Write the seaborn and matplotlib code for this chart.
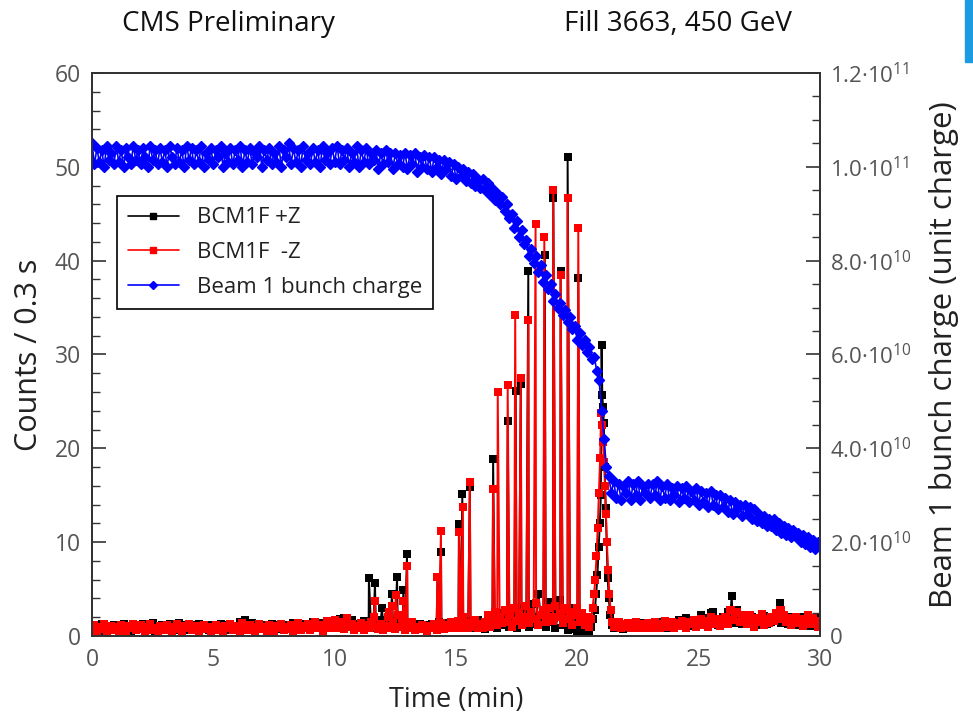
import numpy as np
import pandas as pd
import matplotlib
matplotlib.use("Agg")
import matplotlib.pyplot as plt
import seaborn as sns
from matplotlib.lines import Line2D
from matplotlib.patches import Rectangle
from matplotlib.ticker import MultipleLocator, FuncFormatter

# ---------------- data ----------------
# baseline counts sampled every 0.1 min (0 .. 30)
base_step = 0.1
red_base = [0.8,1.2,0.5,1.0,0.7,1.3,0.4,0.9,1.1,0.6,
            1.0,0.5,1.2,0.8,0.3,1.1,0.9,1.3,0.6,0.8,
            1.2,0.7,0.4,1.0,1.3,0.6,0.9,0.5,1.1,0.8,
            0.6,1.2,0.9,0.4,1.0,1.3,0.7,0.5,1.1,0.9,
            1.3,0.6,0.8,1.1,0.4,0.9,1.2,0.7,1.0,0.5,
            0.9,1.2,0.6,1.0,0.3,1.1,0.8,1.3,0.6,0.9,
            1.1,0.5,1.4,0.8,0.6,1.2,0.9,0.4,1.0,1.3,
            0.7,1.0,0.5,1.2,0.8,0.4,1.1,0.9,1.3,0.6,
            1.0,0.7,1.2,0.5,0.9,1.4,0.6,1.1,0.8,1.3,
            0.6,1.0,1.5,0.8,1.2,0.5,1.1,1.6,0.9,1.3,
            1.7,0.8,1.2,1.5,0.7,1.9,1.0,1.3,0.6,1.1,
            0.9,1.4,0.6,1.2,0.8,1.5,2.0,1.0,0.7,1.3,
            0.6,1.1,2.0,0.8,1.5,0.7,2.2,1.0,1.4,0.6,
            1.2,0.8,1.5,0.6,1.0,0.7,1.2,0.9,0.5,1.1,
            0.8,1.3,0.6,1.0,1.4,0.7,1.2,0.9,1.5,0.8,
            1.1,1.6,0.9,2.0,1.2,0.8,1.4,1.0,1.7,0.9,
            1.3,0.8,1.5,2.2,1.0,1.8,2.6,1.2,2.0,1.4,
            2.8,1.5,2.2,1.0,3.0,1.6,2.4,1.2,2.0,3.2,
            1.4,2.6,1.8,3.5,1.2,2.2,2.8,1.5,3.0,2.0,
            1.6,3.2,2.0,2.5,1.4,3.0,1.8,2.6,1.2,2.2,
            3.0,1.5,2.4,1.2,2.0,1.0,1.5,2.0,3.0,5.0,
            10.0,15.0,10.0,5.0,2.0,1.2,1.0,1.5,0.9,1.3,
            1.0,1.4,0.8,1.2,1.5,0.9,1.3,1.1,0.8,1.4,
            1.2,0.9,1.5,1.1,0.8,1.3,1.6,1.0,1.2,1.5,
            0.9,1.4,1.1,1.6,1.2,0.9,1.5,1.3,1.7,1.0,
            1.4,1.8,1.2,1.6,1.0,2.0,1.5,1.3,1.8,1.1,
            1.6,2.0,1.3,2.8,1.7,2.4,2.6,1.5,2.2,1.8,
            1.3,2.2,1.7,1.0,1.9,1.5,2.3,1.2,1.8,1.4,
            2.0,1.6,2.5,1.8,2.8,2.2,1.5,1.9,1.2,1.7,
            2.0,1.4,1.8,1.1,1.6,2.2,1.3,1.9,1.5,1.0,
            1.6]
black_base = [1.0,0.6,1.2,0.8,1.3,0.5,1.1,0.7,0.9,1.2,
              0.7,1.1,0.9,1.3,0.6,1.0,0.5,1.2,0.8,1.1,
              0.9,1.3,0.6,1.1,0.8,1.4,0.5,1.0,0.7,1.2,
              1.1,0.7,1.3,0.9,0.6,1.0,1.4,0.8,0.6,1.2,
              0.8,1.2,1.0,0.6,1.3,0.7,0.9,1.2,0.6,1.1,
              1.2,0.7,1.0,1.3,0.8,0.6,1.2,0.9,1.1,0.7,
              1.0,1.5,0.9,1.7,1.2,0.8,1.4,1.1,0.7,1.0,
              1.2,0.8,1.0,0.6,1.3,1.1,0.7,1.2,0.9,1.1,
              0.8,1.2,1.0,1.4,0.7,1.1,0.9,1.3,1.0,0.8,
              1.2,1.5,0.9,1.3,1.0,1.4,1.1,0.8,1.6,1.2,
              1.4,1.0,1.8,1.2,1.9,1.5,1.0,1.7,1.2,0.9,
              1.3,1.0,1.6,0.8,1.2,1.0,1.4,0.8,1.1,1.7,
              1.0,1.4,0.8,1.2,1.6,1.0,1.3,1.9,1.1,0.8,
              1.2,0.9,1.4,1.0,0.7,1.3,1.1,0.8,1.2,1.0,
              1.3,0.9,1.1,1.5,0.8,1.2,1.0,1.4,0.9,1.2,
              1.5,1.0,1.3,0.9,1.6,1.1,1.4,0.8,1.2,1.7,
              1.0,1.5,0.7,1.3,2.0,1.1,1.6,0.9,2.4,1.2,
              1.8,2.5,1.0,1.6,2.2,0.8,3.0,1.4,1.9,2.7,
              1.0,2.2,3.4,1.3,4.5,1.8,2.5,1.0,3.6,1.5,
              2.8,0.8,2.2,3.8,1.2,2.0,0.6,3.0,1.5,0.7,
              0.5,0.3,0.8,0.2,1.2,0.4,0.9,0.3,0.2,0.3,
              10.0,15.0,10.0,5.0,2.0,1.0,0.8,1.2,1.0,0.7,
              1.1,0.8,1.3,1.0,1.2,0.9,1.4,1.1,1.0,1.3,
              0.9,1.3,1.1,1.5,1.0,1.2,1.4,0.9,1.3,1.1,
              1.4,1.1,1.7,1.2,1.5,1.9,1.3,1.6,1.1,1.5,
              1.6,2.2,1.4,1.9,1.3,2.4,2.6,1.7,1.2,1.8,
              2.0,1.5,2.6,1.7,2.2,1.4,2.8,1.9,1.3,1.6,
              1.9,1.4,2.0,1.6,1.2,1.8,1.5,2.1,1.3,1.7,
              1.5,2.0,1.7,2.3,1.4,1.9,1.6,1.3,2.0,1.5,
              1.8,1.2,1.6,2.0,1.4,1.7,1.1,1.5,1.9,1.3,
              1.4]

# single-sample spikes (time in min, counts)
black_spike_t = [11.41,11.66,11.95,12.36,12.57,12.83,12.98,14.24,14.38,15.12,15.26,15.57,
                 16.53,17.13,17.46,17.67,17.98,18.66,19.01,19.31,19.6,20.04,25.5,26.36,28.35]
black_spike_v = [6.2,5.6,3.0,4.5,6.3,4.9,8.7,6.3,8.9,11.9,15.1,15.9,
                 18.9,22.9,26.1,26.9,38.9,40.6,46.7,38.9,51.0,38.2,2.45,4.26,3.55]
red_spike_t = [11.66,12.24,12.36,12.51,12.83,12.99,14.23,14.38,15.13,15.28,15.57,16.53,
               16.72,17.13,17.44,17.67,17.98,18.28,18.64,19.01,19.31,19.6,20.04,26.33,28.35]
red_spike_v = [3.7,2.6,3.2,4.4,3.7,7.5,6.3,11.2,11.1,13.7,16.4,15.7,
               26.0,26.7,34.2,27.5,33.7,43.9,42.5,47.5,38.5,46.7,43.5,2.8,2.8]

# beam-loss bump around 21 min
black_bump_t = [20.5,20.58,20.65,20.72,20.78,20.83,20.88,20.93,20.97,21.0,21.03,
                21.06,21.09,21.13,21.17,21.21,21.25,21.3,21.35,21.42,21.5]
black_bump_v = [0.3,1.0,1.8,2.8,4.5,6.5,9.5,12.0,15.0,31.0,25.7,
                24.4,22.7,18.0,13.6,10.0,6.2,4.0,2.2,1.2,0.8]
red_bump_t = [20.5,20.57,20.63,20.69,20.74,20.79,20.84,20.89,20.94,20.98,21.02,
              21.06,21.1,21.14,21.18,21.22,21.27,21.32,21.37,21.43,21.5]
red_bump_v = [1.0,1.8,3.0,4.5,6.0,8.5,11.5,15.2,19.0,23.8,22.5,
              20.7,18.5,16.0,13.0,10.0,7.0,4.5,2.8,1.5,1.0]

# beam 1 bunch charge (units of 1e10), every 0.1 min
beam_step = 0.1
beam_e10 = [10.5,10.05,10.4,10.1,10.35,10.0,10.45,10.15,10.3,10.05,
            10.45,10.1,10.35,10.0,10.4,10.2,10.05,10.45,10.15,10.35,
            10.05,10.4,10.2,10.0,10.45,10.15,10.35,10.05,10.4,10.1,
            10.35,10.0,10.45,10.2,10.05,10.4,10.1,10.35,10.0,10.45,
            10.15,10.4,10.05,10.35,10.1,10.45,10.0,10.3,10.15,10.4,
            10.05,10.35,10.2,10.45,10.0,10.3,10.1,10.4,10.05,10.35,
            10.15,10.45,10.0,10.35,10.1,10.4,10.05,10.3,10.2,10.45,
            10.0,10.35,10.15,10.4,10.05,10.3,10.1,10.45,10.0,10.35,
            10.2,10.5,10.05,10.4,10.1,10.35,10.0,10.45,10.15,10.3,
            10.05,10.4,10.1,10.35,10.0,10.45,10.15,10.3,10.05,10.4,
            10.1,10.45,10.05,10.35,10.15,10.4,10.0,10.3,10.1,10.45,
            10.0,10.35,10.1,10.4,10.05,10.3,10.15,10.35,9.95,10.3,
            10.05,10.35,10.1,10.3,9.95,10.3,10.05,10.25,10.0,10.3,
            9.95,10.25,10.05,10.3,9.9,10.2,10.0,10.25,9.95,10.2,
            9.9,10.2,10.0,10.15,9.85,10.15,9.95,10.1,9.8,10.05,
            9.75,10.0,9.8,9.95,9.7,9.9,9.65,9.85,9.6,9.75,
            9.55,9.75,9.5,9.65,9.4,9.55,9.3,9.45,9.2,9.35,
            9.05,9.2,8.9,9.0,8.7,8.85,8.5,8.65,8.35,8.45,
            8.1,8.25,7.95,8.1,7.75,7.9,7.55,7.7,7.4,7.5,
            7.15,7.3,7.0,7.1,6.85,6.95,6.7,6.8,6.55,6.6,
            6.3,6.45,6.2,6.3,6.05,6.15,5.9,5.95,5.65,5.45,
            4.8,4.2,3.6,3.4,3.05,3.3,2.95,3.25,2.9,3.2,
            3.05,3.3,2.9,3.25,3.0,3.3,2.9,3.2,3.05,3.25,
            2.95,3.25,3.0,3.3,2.9,3.2,2.95,3.25,2.9,3.15,
            3.0,3.2,2.85,3.15,2.95,3.2,2.85,3.1,2.9,3.15,
            2.8,3.1,2.85,3.05,2.75,3.1,2.8,3.0,2.7,3.0,
            2.75,2.95,2.65,2.9,2.6,2.85,2.7,2.8,2.55,2.8,
            2.6,2.75,2.5,2.7,2.45,2.6,2.4,2.55,2.35,2.5,
            2.35,2.5,2.25,2.4,2.2,2.35,2.15,2.3,2.1,2.25,
            2.1,2.2,2.0,2.15,1.95,2.1,1.9,2.05,1.85,2.0,
            1.95]

left_ticks = [0, 10, 20, 30, 40, 50, 60]
x_ticks = [0, 5, 10, 15, 20, 25, 30]
right_ticks_e10 = [0, 2, 4, 6, 8, 10, 12]
labels = ["BCM1F +Z", "BCM1F  -Z", "Beam 1 bunch charge"]

# ---------------- assemble series ----------------
def build(base, sp_t, sp_v, bump_t, bump_v):
    t = np.round(np.arange(len(base)) * base_step, 3)
    b = np.array(base, dtype=float)
    keep = (t < min(bump_t) - 0.03) | (t > max(bump_t) + 0.03)
    tt = np.concatenate([t[keep], sp_t, bump_t])
    vv = np.concatenate([b[keep], sp_v, bump_v])
    df = pd.DataFrame({"t": tt, "v": vv}).sort_values("t", kind="mergesort")
    return df.reset_index(drop=True)

df_black = build(black_base, black_spike_t, black_spike_v, black_bump_t, black_bump_v)
df_red = build(red_base, red_spike_t, red_spike_v, red_bump_t, red_bump_v)
df_beam = pd.DataFrame({"t": np.round(np.arange(len(beam_e10)) * beam_step, 3),
                        "q": np.array(beam_e10) * 1e10})

# ---------------- style ----------------
sns.set_theme(style="white")
plt.rcParams["font.family"] = ["Open Sans", "DejaVu Sans"]
plt.rcParams["mathtext.fontset"] = "custom"
plt.rcParams["mathtext.rm"] = "Open Sans"
plt.rcParams["mathtext.it"] = "Open Sans:italic"
plt.rcParams["mathtext.bf"] = "Open Sans:bold"

spine_col = "#333333"
tick_col = "#555555"
lab_col = "#222222"

fig = plt.figure(figsize=(9.73, 7.2), dpi=100)
ax = fig.add_axes([0.0946, 0.1167, 0.7481, 0.7819])
ax2 = ax.twinx()

sns.lineplot(data=df_black, x="t", y="v", ax=ax, color="black", marker="s",
             markersize=5.5, markeredgewidth=0, linewidth=1.4, sort=False,
             estimator=None, legend=False)
sns.lineplot(data=df_red, x="t", y="v", ax=ax, color="#ff0000", marker="s",
             markersize=5.5, markeredgewidth=0, linewidth=1.4, sort=False,
             estimator=None, legend=False)
sns.lineplot(data=df_beam, x="t", y="q", ax=ax2, color="#0000ff", marker="D",
             markersize=5, markeredgewidth=1.0, markeredgecolor="#0000ff",
             linewidth=1.2, sort=False, estimator=None, legend=False)

ax.set_xlim(0, 30)
ax.set_ylim(0, 60)
ax2.set_ylim(0, 12e10)

ax.set_xticks(x_ticks)
ax.set_yticks(left_ticks)
ax.xaxis.set_minor_locator(MultipleLocator(1))
ax.yaxis.set_minor_locator(MultipleLocator(2))
ax2.set_yticks([v * 1e10 for v in right_ticks_e10])
ax2.yaxis.set_minor_locator(MultipleLocator(0.5e10))

def right_fmt(v, pos):
    if abs(v) < 1:
        return "0"
    e = int(np.floor(np.log10(v) + 1e-9))
    m = v / 10 ** e
    return r"$\mathregular{%.1f·10^{%d}}$" % (m, e)

ax2.yaxis.set_major_formatter(FuncFormatter(right_fmt))

ax.tick_params(axis="both", which="both", direction="in", colors=spine_col,
               labelcolor=tick_col, labelsize=16.5, top=False, right=False)
ax.tick_params(axis="both", which="major", length=10, width=1.2)
ax.tick_params(axis="both", which="minor", length=6, width=1.0)
ax.tick_params(axis="x", which="major", pad=9)
ax.tick_params(axis="y", which="major", pad=8)
ax2.tick_params(axis="y", which="both", direction="in", colors=spine_col,
                labelcolor=tick_col, labelsize=16)
ax2.tick_params(axis="y", which="major", length=10, width=1.2, pad=7)
ax2.tick_params(axis="y", which="minor", length=6, width=1.0)

for a in (ax, ax2):
    for s in a.spines.values():
        s.set_color(spine_col)
        s.set_linewidth(1.3)
        s.set_visible(True)
    a.grid(False)

ax.set_xlabel("Time (min)", fontsize=19.5, color=lab_col, labelpad=10)
ax.set_ylabel("Counts / 0.3 s", fontsize=22, color=lab_col, labelpad=8)
ax2.set_ylabel("Beam 1 bunch charge (unit charge)", fontsize=22.5, color=lab_col,
               labelpad=13)

handles = [
    Line2D([], [], color="black", marker="s", markersize=5, linewidth=1.2),
    Line2D([], [], color="#ff0000", marker="s", markersize=5, linewidth=1.2),
    Line2D([], [], color="#0000ff", marker="D", markersize=4, linewidth=1.2),
]
leg = ax2.legend(handles, labels, loc="upper left", bbox_to_anchor=(0.034, 0.781),
                 frameon=True, fancybox=False, fontsize=16, handlelength=2.3,
                 handletextpad=0.8, borderpad=0.5, labelspacing=0.62,
                 borderaxespad=0.0)
leg.get_frame().set_edgecolor("black")
leg.get_frame().set_linewidth(1.2)
leg.get_frame().set_alpha(1.0)
for txt in leg.get_texts():
    txt.set_color(lab_col)

title_fam = ["Liberation Sans Narrow", "Open Sans", "DejaVu Sans"]
fig.text(228 / 973, 1 - 24 / 720, "CMS Preliminary", ha="center", va="center",
         fontsize=20, color="#111111", family=title_fam)
fig.text(678 / 973, 1 - 24 / 720, "Fill 3663, 450 GeV", ha="center", va="center",
         fontsize=20, color="#111111", family=title_fam)

fig.patches.append(Rectangle((965 / 973, 1 - 62 / 720), 8 / 973, 62 / 720,
                             transform=fig.transFigure, color="#1b9be3", zorder=5))

fig.savefig("out.png", dpi=100)
